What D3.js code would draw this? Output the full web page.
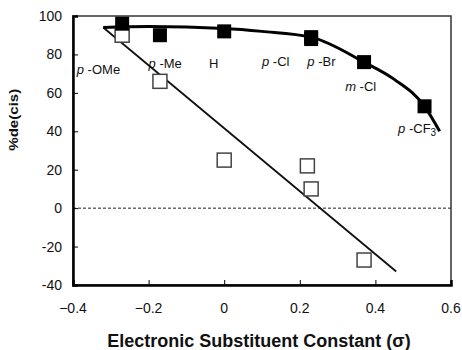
<!DOCTYPE html>
<html>
<head>
<meta charset="utf-8">
<script src="https://cdn.jsdelivr.net/npm/d3@7"></script>
<style>
  body { margin: 0; background: #fff; }
  text { font-family: "Liberation Sans", Arial, sans-serif; fill: #111; }
</style>
</head>
<body>
<div id="chart"></div>
<script>
// substituents and sigma values
const substituents = ["p-OMe", "p-Me", "H", "p-Cl", "p-Br", "m-Cl", "p-CF3"]
const sigma = [-0.27, -0.17, 0, 0.23, 0.23, 0.37, 0.53]
// filled squares (upper series) and open squares (lower series)
const deFilled = [96, 90, 92, 89, 88, 76, 53]
const deOpen = [90, 66, 25, 22, 10, -27]
const sigmaOpen = [-0.27, -0.17, 0, 0.22, 0.23, 0.37]

// fitted lines
const lineSigma = [-0.32, 0.455]
const lineDe = [94, -33]
const curveSigma = [-0.32, -0.2, 0, 0.1, 0.23, 0.37, 0.45, 0.53, 0.57]
const curveDe = [94, 94.5, 93.5, 92, 89, 76, 67, 53, 40]

const xTicks = [-0.4, -0.2, 0, 0.2, 0.4, 0.6]
const yTicks = [-40, -20, 0, 20, 40, 60, 80, 100]

// label anchor positions in data units
const labelX = [-0.39, -0.2, -0.04, 0.1, 0.22, 0.32, 0.46]
const labelY = [70, 73, 73, 74, 74, 61, 39]

const W = 462, H = 350
const margin = { top: 16, right: 11, bottom: 65, left: 73 }

const svg = d3.select("#chart").append("svg")
  .attr("width", W).attr("height", H)

const x = d3.scaleLinear().domain([-0.4, 0.6]).range([margin.left, W - margin.right])
const y = d3.scaleLinear().domain([-40, 100]).range([H - margin.bottom, margin.top])

// frame (top / right)
svg.append("rect")
  .attr("x", x(-0.4)).attr("y", y(100))
  .attr("width", x(0.6) - x(-0.4)).attr("height", y(-40) - y(100))
  .attr("fill", "none").attr("stroke", "#333").attr("stroke-width", 1.5)

// zero dashed line
svg.append("line")
  .attr("x1", x(-0.4)).attr("x2", x(0.6))
  .attr("y1", y(0)).attr("y2", y(0))
  .attr("stroke", "#222").attr("stroke-width", 1).attr("stroke-dasharray", "3,2")

// axes, ticks inward
const xAxis = svg.append("g")
  .attr("transform", `translate(0,${y(-40)})`)
  .call(d3.axisTop(x).tickValues(xTicks).tickSize(5).tickFormat(""))
xAxis.select(".domain").attr("stroke-width", 2.5)
xAxis.selectAll(".tick line").attr("stroke-width", 1)

const yAxis = svg.append("g")
  .attr("transform", `translate(${x(-0.4)},0)`)
  .call(d3.axisRight(y).tickValues(yTicks).tickSize(5).tickFormat(""))
yAxis.select(".domain").attr("stroke-width", 2.5)
yAxis.selectAll(".tick line").attr("stroke-width", 1)

svg.selectAll(".xlab").data(xTicks).join("text")
  .attr("x", d => x(d)).attr("y", y(-40) + 28)
  .attr("text-anchor", "middle").attr("font-size", 14)
  .text(d => d === 0 ? "0" : d3.format(".1f")(d))

svg.selectAll(".ylab").data(yTicks).join("text")
  .attr("x", x(-0.4) - 11).attr("y", d => y(d) + 5)
  .attr("text-anchor", "end").attr("font-size", 14)
  .text(d => d)

// fit line
svg.append("line")
  .attr("x1", x(lineSigma[0])).attr("y1", y(lineDe[0]))
  .attr("x2", x(lineSigma[1])).attr("y2", y(lineDe[1]))
  .attr("stroke", "#111").attr("stroke-width", 1.8)

// fit curve
const curvePts = curveSigma.map((s, i) => [s, curveDe[i]])
svg.append("path")
  .datum(curvePts)
  .attr("d", d3.line().x(d => x(d[0])).y(d => y(d[1])).curve(d3.curveMonotoneX))
  .attr("fill", "none").attr("stroke", "#000").attr("stroke-width", 3)

const sz = 14
// open squares
svg.selectAll(".open").data(deOpen).join("rect")
  .attr("x", (d, i) => x(sigmaOpen[i]) - sz / 2)
  .attr("y", d => y(d) - sz / 2)
  .attr("width", sz).attr("height", sz)
  .attr("fill", "#fff").attr("stroke", "#444").attr("stroke-width", 1.5)

// filled squares
svg.selectAll(".filled").data(deFilled).join("rect")
  .attr("x", (d, i) => x(sigma[i]) - sz / 2)
  .attr("y", d => y(d) - sz / 2)
  .attr("width", sz).attr("height", sz)
  .attr("fill", "#000")

// substituent labels
const lab = svg.selectAll(".sub").data(substituents).join("text")
  .attr("x", (d, i) => x(labelX[i])).attr("y", (d, i) => y(labelY[i]))
  .attr("font-size", 13)
lab.each(function (d) {
  const t = d3.select(this)
  const m = d.match(/^([pm])-(.*?)(\d?)$/)
  if (!m) { t.text(d); return }
  t.append("tspan").attr("font-style", "italic").text(m[1])
  t.append("tspan").text(" -" + m[2])
  if (m[3]) t.append("tspan").attr("font-size", 10).attr("dy", 3).text(m[3])
})

// axis titles
svg.append("text")
  .attr("x", 259).attr("y", H - 3)
  .attr("text-anchor", "middle").attr("font-size", 18).attr("font-weight", "bold")
  .text("Electronic Substituent Constant (σ)")

svg.append("text")
  .attr("transform", `translate(18,${y(46)}) rotate(-90)`)
  .attr("text-anchor", "middle").attr("font-size", 12).attr("font-weight", "bold")
  .attr("textLength", 62).attr("lengthAdjust", "spacingAndGlyphs")
  .text("%de(cis)")
</script>
</body>
</html>
